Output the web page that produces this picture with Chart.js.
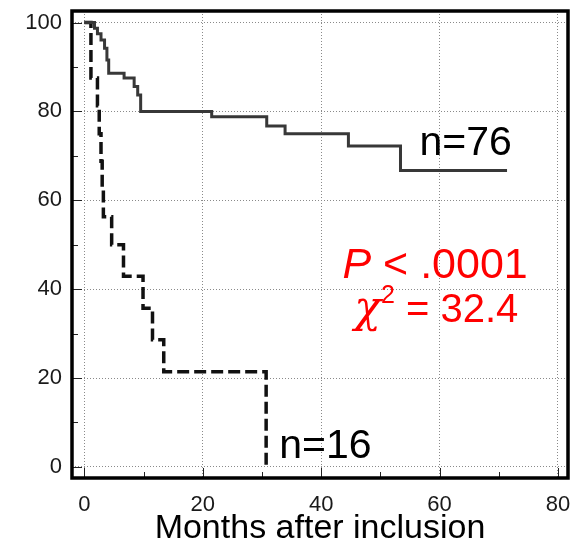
<!DOCTYPE html>
<html>
<head>
<meta charset="utf-8">
<script src="https://cdn.jsdelivr.net/npm/chart.js@4.4.1/dist/chart.umd.min.js"></script>
<style>
  html, body { margin: 0; padding: 0; background: #fff; }
</style>
</head>
<body>
<canvas id="km" width="579" height="542"></canvas>
<script>
// Kaplan-Meier curves (months, % event-free)
const n76Months = [0, 1.7, 2.2, 2.8, 3.4, 3.8, 4.1, 6.7, 8.4, 9.0, 9.5, 21.5, 30.8, 33.9, 44.6, 53.4, 71.4];
const n76Surv   = [100, 98.7, 97.5, 96.1, 94.2, 91.6, 88.6, 87.5, 85.6, 83.7, 80.0, 78.8, 76.7, 75.0, 72.2, 66.7, 66.7];
const n16Months = [0, 1.1, 2.2, 2.5, 2.8, 3.0, 3.2, 4.6, 6.6, 9.9, 11.5, 13.4, 30.7];
const n16Surv   = [100, 87.5, 81.3, 75.0, 68.8, 62.5, 56.3, 50.0, 42.9, 35.7, 28.6, 21.4, 0];
const xTicks = [0, 20, 40, 60, 80];
const yTicks = [0, 20, 40, 60, 80, 100];
const xMinor = [10, 30, 50, 70];
const yMinor = [10, 30, 50, 70, 90];

const FONT = '"Liberation Sans", Arial, sans-serif';

function toPoints(xs, ys) {
  return xs.map((m, i) => ({ x: m, y: ys[i] }));
}

// frame, inward tick marks and the text labels inside the plot
const framePlugin = {
  id: 'frame',
  afterDatasetsDraw(chart) {
    const { ctx, chartArea: a, scales: { x, y } } = chart;
    ctx.save();
    ctx.strokeStyle = '#222';
    ctx.lineWidth = 1;
    ctx.beginPath();
    xTicks.forEach(v => { const p = Math.round(x.getPixelForValue(v)) + 0.5; ctx.moveTo(p, a.bottom); ctx.lineTo(p, a.bottom - 10); });
    xMinor.forEach(v => { const p = Math.round(x.getPixelForValue(v)) + 0.5; ctx.moveTo(p, a.bottom); ctx.lineTo(p, a.bottom - 6); });
    yTicks.forEach(v => { const p = Math.round(y.getPixelForValue(v)) + 0.5; ctx.moveTo(a.left, p); ctx.lineTo(a.left + 10, p); });
    yMinor.forEach(v => { const p = Math.round(y.getPixelForValue(v)) + 0.5; ctx.moveTo(a.left, p); ctx.lineTo(a.left + 6, p); });
    ctx.stroke();

    ctx.lineWidth = 3.5;
    ctx.strokeStyle = '#000';
    ctx.strokeRect(a.left, a.top, a.width, a.height);

    ctx.textAlign = 'left';
    ctx.textBaseline = 'alphabetic';
    ctx.fillStyle = '#000';
    ctx.font = '41px ' + FONT;
    ctx.fillText('n=76', x.getPixelForValue(56.6), y.getPixelForValue(70.1));
    ctx.fillText('n=16', x.getPixelForValue(32.9), y.getPixelForValue(2.0));

    ctx.fillStyle = '#ff0000';
    let px = x.getPixelForValue(43.6);
    let py = y.getPixelForValue(42.4);
    ctx.font = 'italic 43px ' + FONT;
    ctx.fillText('P', px, py);
    px += ctx.measureText('P').width;
    ctx.font = '43px ' + FONT;
    ctx.fillText(' < .0001', px, py);

    px = x.getPixelForValue(45.6);
    py = y.getPixelForValue(32.6);
    ctx.font = 'italic 44px "DejaVu Serif", serif';
    ctx.fillText('\u03C7', px, py);
    px += ctx.measureText('\u03C7').width;
    ctx.font = '25px ' + FONT;
    ctx.fillText('2', px, py - 19);
    px += ctx.measureText('2').width;
    ctx.font = '40px ' + FONT;
    ctx.fillText(' = 32.4', px, py);
    ctx.restore();
  }
};

new Chart(document.getElementById('km'), {
  type: 'line',
  data: {
    datasets: [
      {
        label: 'n=76',
        data: toPoints(n76Months, n76Surv),
        borderColor: '#383838',
        borderWidth: 3,
        stepped: true,
        pointRadius: 0,
        fill: false
      },
      {
        label: 'n=16',
        data: toPoints(n16Months, n16Surv),
        borderColor: '#111',
        borderWidth: 3.5,
        borderDash: [12, 5],
        stepped: true,
        pointRadius: 0,
        fill: false
      }
    ]
  },
  options: {
    responsive: false,
    animation: false,
    devicePixelRatio: 1,
    layout: { padding: { top: 11, right: 11, left: 0, bottom: 0 } },
    plugins: { legend: { display: false }, tooltip: { enabled: false } },
    scales: {
      x: {
        type: 'linear',
        min: -2.1,
        max: 81.7,
        afterBuildTicks: s => { s.ticks = xTicks.map(v => ({ value: v })); },
        afterFit: s => { s.height = 64; s.paddingLeft = 0; s.paddingRight = 0; },
        grid: { color: '#8a8a8a', lineWidth: 1, drawTicks: false },
        border: { display: false, dash: [1, 2] },
        ticks: { font: { family: FONT, size: 22 }, color: '#1a1a1a', padding: 14, maxRotation: 0 },
        title: {
          display: true,
          text: 'Months after inclusion',
          font: { family: FONT, size: 34, lineHeight: 1 },
          color: '#000',
          padding: { top: 0, bottom: -4 }
        }
      },
      y: {
        type: 'linear',
        min: -2.5,
        max: 102.6,
        afterBuildTicks: s => { s.ticks = yTicks.map(v => ({ value: v })); },
        afterFit: s => { s.width = 72; s.paddingTop = 0; s.paddingBottom = 0; },
        grid: { color: '#8a8a8a', lineWidth: 1, drawTicks: false },
        border: { display: false, dash: [1, 2] },
        ticks: { font: { family: FONT, size: 22 }, color: '#1a1a1a', padding: 10 }
      }
    }
  },
  plugins: [framePlugin]
});
</script>
</body>
</html>
